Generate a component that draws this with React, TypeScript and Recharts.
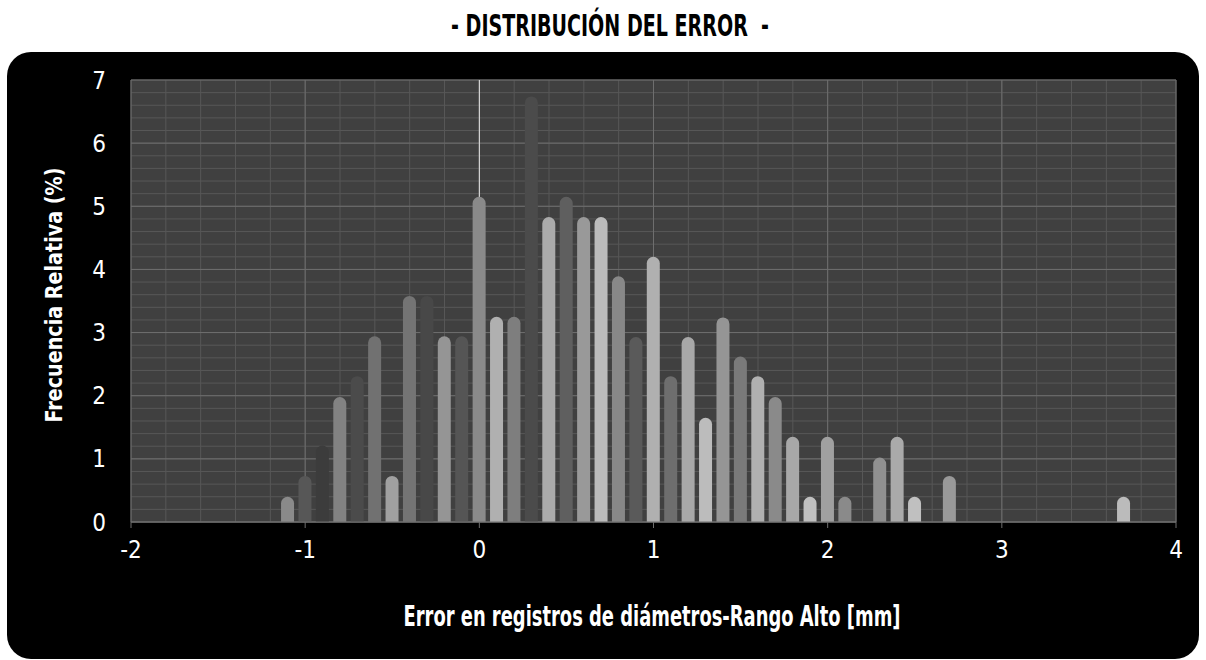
import { BarChart, Bar, Cell, XAxis, YAxis, CartesianGrid } from "recharts";

// error bins (mm) and relative frequency (%)
const errorMm = [
  -1.1, -1.0, -0.9, -0.8, -0.7, -0.6, -0.5, -0.4, -0.3, -0.2, -0.1, 0.0, 0.1, 0.2, 0.3, 0.4, 0.5, 0.6, 0.7,
  0.8, 0.9, 1.0, 1.1, 1.2, 1.3, 1.4, 1.5, 1.6, 1.7, 1.8, 1.9, 2.0, 2.1, 2.3, 2.4, 2.5, 2.7, 3.7,
];
const frecuencia = [
  0.4, 0.73, 1.21, 1.98, 2.31, 2.94, 0.73, 3.58, 3.58, 2.94, 2.94, 5.15, 3.25, 3.25, 6.74, 4.83, 5.15, 4.83, 4.83,
  3.89, 2.93, 4.2, 2.31, 2.93, 1.65, 3.24, 2.62, 2.31, 1.98, 1.35, 0.4, 1.35, 0.4, 1.02, 1.35, 0.4, 0.73, 0.4,
];
const barShades = [
  "#8a8a8a", "#575757", "#3c3c3c", "#828282", "#4b4b4b", "#717171", "#a0a0a0", "#747474", "#484848", "#959595",
  "#555555", "#8a8a8a", "#b0b0b0", "#7e7e7e", "#4b4b4b", "#ababab", "#5f5f5f", "#999999", "#bbbbbb", "#888888",
  "#5a5a5a", "#b0b0b0", "#6e6e6e", "#a8a8a8", "#bcbcbc", "#959595", "#7a7a7a", "#b0b0b0", "#8a8a8a", "#a8a8a8",
  "#c0c0c0", "#a0a0a0", "#8a8a8a", "#909090", "#aaaaaa", "#c0c0c0", "#999999", "#bbbbbb",
];
const xTicks = [-2, -1, 0, 1, 2, 3, 4];
const yTicks = [0, 1, 2, 3, 4, 5, 6, 7];

// minor grid every 0.2 on both axes
const xMinor = Array.from({ length: 31 }, (_, i) => +(-2 + i * 0.2).toFixed(1));
const yMinor = Array.from({ length: 36 }, (_, i) => +(i * 0.2).toFixed(1));

const data = errorMm.map((e, i) => ({ error: e, frecuencia: frecuencia[i] }));

const font = "'Liberation Sans Narrow', 'DejaVu Sans Condensed', 'Roboto', sans-serif";

export default function App() {
  return (
    <div
      style={{ position: "fixed", left: 0, top: 0, width: 1206, height: 660, background: "#fff", overflow: "hidden" }}
    >
      <svg width={1206} height={660} style={{ position: "absolute", left: 0, top: 0 }}>
        <rect x={7} y={52} width={1192} height={607} rx={24} ry={24} fill="#000" />
        <text
          x={610}
          y={36}
          textAnchor="middle"
          fontFamily={font}
          fontWeight="bold"
          fontSize={31}
          fill="#000"
          textLength={318}
          lengthAdjust="spacingAndGlyphs"
          style={{ whiteSpace: "pre" }}
        >
          - DISTRIBUCIÓN DEL ERROR  -
        </text>
        <text
          x={652}
          y={626}
          textAnchor="middle"
          fontFamily={font}
          fontWeight="bold"
          fontSize={28}
          fill="#fff"
          textLength={497}
          lengthAdjust="spacingAndGlyphs"
        >
          Error en registros de diámetros-Rango Alto [mm]
        </text>
        <text
          transform="translate(62,295) rotate(-90)"
          textAnchor="middle"
          fontFamily={font}
          fontWeight="bold"
          fontSize={23}
          fill="#fff"
          textLength={255}
          lengthAdjust="spacingAndGlyphs"
        >
          Frecuencia Relativa (%)
        </text>
      </svg>
      <div style={{ position: "absolute", left: 0, top: 0 }}>
        <BarChart width={1206} height={660} data={data} margin={{ top: 80, right: 30, left: 71, bottom: 88 }}>
          <CartesianGrid fill="#404040" stroke="#575757" verticalValues={xMinor} horizontalValues={yMinor} />
          <CartesianGrid stroke="#6e6e6e" verticalValues={xTicks} horizontalValues={yTicks} />
          <CartesianGrid stroke="#e6e6e6" horizontal={false} verticalValues={[0]} />
          <XAxis
            dataKey="error"
            type="number"
            domain={[-2, 4]}
            ticks={xTicks}
            interval={0}
            height={50}
            stroke="#6e6e6e"
            tickSize={6}
            tickMargin={13}
            tick={{ fill: "#fff", fontSize: 24, fontFamily: font }}
          />
          <YAxis
            type="number"
            domain={[0, 7]}
            ticks={yTicks}
            interval={0}
            width={60}
            axisLine={false}
            tickLine={false}
            tickSize={0}
            tickMargin={25}
            tick={{ fill: "#fff", fontSize: 24, fontFamily: font }}
          />
          <Bar dataKey="frecuencia" barSize={13} radius={[6.5, 6.5, 0, 0]} isAnimationActive={false}>
            {data.map((_, i) => (
              <Cell key={i} fill={barShades[i]} />
            ))}
          </Bar>
        </BarChart>
      </div>
    </div>
  );
}
